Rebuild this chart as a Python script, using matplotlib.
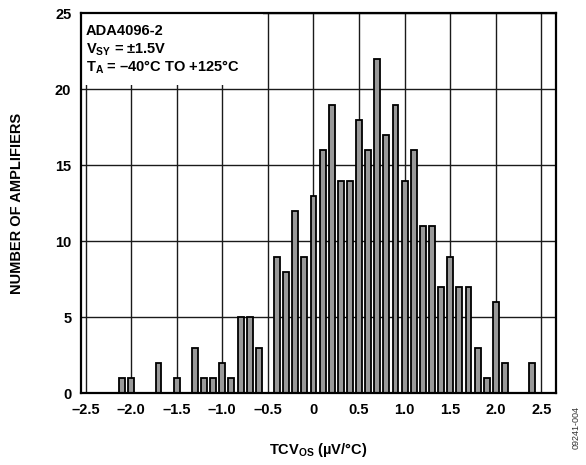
import matplotlib
matplotlib.use("Agg")
import matplotlib.pyplot as plt
from matplotlib.patches import Rectangle

plt.rcParams['font.family'] = ['Liberation Sans', 'DejaVu Sans']
plt.rcParams['mathtext.fontset'] = 'custom'
plt.rcParams['mathtext.rm'] = 'Liberation Sans:bold'
plt.rcParams['mathtext.it'] = 'Liberation Sans:bold'
plt.rcParams['mathtext.bf'] = 'Liberation Sans:bold'

# histogram data (bin centre in uV/C, number of amplifiers)
tcvos = [-2.1, -2.0, -1.7, -1.5, -1.3, -1.2, -1.1, -1.0, -0.9, -0.8, -0.7, -0.6,
         -0.4, -0.3, -0.2, -0.1, 0.0, 0.1, 0.2, 0.3, 0.4, 0.5, 0.6, 0.7, 0.8, 0.9,
         1.0, 1.1, 1.2, 1.3, 1.4, 1.5, 1.6, 1.7, 1.8, 1.9, 2.0, 2.1, 2.4]
counts = [1, 1, 2, 1, 3, 1, 1, 2, 1, 5, 5, 3,
          9, 8, 12, 9, 13, 16, 19, 14, 14, 18, 16, 22, 17, 19,
          14, 16, 11, 11, 7, 9, 7, 7, 3, 1, 6, 2, 2]

xticks = [-2.5, -2.0, -1.5, -1.0, -0.5, 0, 0.5, 1.0, 1.5, 2.0, 2.5]
xticklabels = ["–2.5", "–2.0", "–1.5", "–1.0", "–0.5", "0", "0.5", "1.0", "1.5", "2.0", "2.5"]
yticks = [0, 5, 10, 15, 20, 25]

fig = plt.figure(figsize=(5.86, 4.65), dpi=100)
ax = fig.add_axes([0.1382, 0.1542, 0.8106, 0.8168])

ax.bar(tcvos, counts, width=0.065, color="#999999", edgecolor="black",
       linewidth=1.3, zorder=3)

ax.set_xlim(-2.55, 2.66)
ax.set_ylim(0, 25)
ax.set_xticks(xticks)
ax.set_xticklabels(xticklabels)
ax.set_yticks(yticks)
ax.grid(True, color="#1a1a1a", linewidth=1.0, zorder=1)
ax.set_axisbelow(True)
ax.tick_params(length=0, pad=7, labelsize=10.5)
for lab in ax.get_xticklabels() + ax.get_yticklabels():
    lab.set_fontweight("bold")
for sp in ax.spines.values():
    sp.set_linewidth(1.6)
    sp.set_zorder(5)

# white box behind the conditions text
ax.add_patch(Rectangle((-2.55, 20.3), 2.0, 4.7, facecolor="white",
                       edgecolor="none", zorder=2))
ax.text(0.01, 0.953, "ADA4096-2", transform=ax.transAxes, fontsize=10.5,
        fontweight="bold", va="center", ha="left", zorder=4)
ax.text(0.01, 0.905, r"V$_{SY}$ = ±1.5V", transform=ax.transAxes, fontsize=10.5,
        fontweight="bold", va="center", ha="left", zorder=4)
ax.text(0.01, 0.857, r"T$_{A}$ = –40°C TO +125°C", transform=ax.transAxes,
        fontsize=10.5, fontweight="bold", va="center", ha="left", zorder=4)

ax.set_ylabel("NUMBER OF AMPLIFIERS", fontsize=10.5, fontweight="bold", labelpad=22)
ax.set_xlabel(r"TCV$_{OS}$ (µV/°C)", fontsize=10.5, fontweight="bold", labelpad=17)

fig.text(0.983, 0.08, "09241-004", rotation=90, fontsize=6.5, color="#333333",
         ha="center", va="center")

fig.savefig("out.png", dpi=100)
